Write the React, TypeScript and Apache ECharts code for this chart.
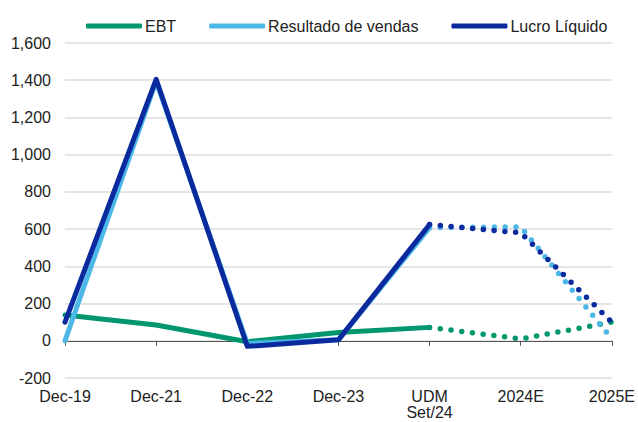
import React, { useEffect, useRef } from "react";
import * as echarts from "echarts";

const categories = ["Dec-19", "Dec-21", "Dec-22", "Dec-23", "UDM\nSet/24", "2024E", "2025E"];
const ebt = [138, 85, -5, 45, 72, 10, 100];
const resultado = [0, 1395, -15, 5, 608, 612, 10];
const lucro = [100, 1405, -30, 5, 625, 580, 100];
const yTicks = { min: -200, max: 1600, interval: 200 };
const splitIndex = 4; // actual data up to UDM Set/24, estimates afterwards

const names = ["EBT", "Resultado de vendas", "Lucro Líquido"];
const colors = ["#00976F", "#4CB8E8", "#0A2A9E"];

const solidPart = (arr: number[]) => arr.map((v, i) => (i <= splitIndex ? v : null));
const dottedPart = (arr: number[]) => arr.map((v, i) => (i >= splitIndex ? v : null));

export default function App() {
  const ref = useRef<HTMLDivElement>(null);
  useEffect(() => {
    if (!ref.current) return;
    const chart = echarts.init(ref.current, null, { renderer: "svg" });
    const font = "'Liberation Sans', Arial, sans-serif";
    const datasets = [ebt, resultado, lucro];
    const series: any[] = [];
    datasets.forEach((d, k) => {
      series.push({
        name: names[k],
        type: "line",
        data: solidPart(d),
        showSymbol: false,
        symbol: "none",
        lineStyle: { color: colors[k], width: 5, cap: "round", join: "round" },
        itemStyle: { color: colors[k] },
        z: 2 + k,
      });
      series.push({
        name: names[k],
        type: "line",
        data: dottedPart(d),
        showSymbol: false,
        symbol: "none",
        lineStyle: { color: colors[k], width: 5.5, type: [0, 10.8], cap: "round" },
        itemStyle: { color: colors[k] },
        z: 2 + k,
      });
    });
    chart.setOption({
      animation: false,
      backgroundColor: "#ffffff",
      legend: {
        data: names.map((n, k) => ({ name: n, itemStyle: { color: colors[k] } })),
        left: 81,
        top: 13,
        icon: "roundRect",
        itemWidth: 56,
        itemHeight: 5,
        itemGap: 33,
        textStyle: { fontFamily: font, fontSize: 16, color: "#222", padding: [0, 0, 0, -2] },
      },
      grid: { left: 65, right: 26, top: 43, bottom: 44, containLabel: false },
      xAxis: [
        {
          type: "category",
          data: categories,
          boundaryGap: false,
          position: "bottom",
          axisLine: { show: false, onZero: false },
          axisTick: { show: false },
          axisLabel: {
            fontFamily: font,
            fontSize: 16,
            color: "#222",
            margin: 10,
            lineHeight: 16,
            interval: 0,
          },
          splitLine: { show: false },
        },
        {
          type: "category",
          data: categories,
          boundaryGap: false,
          position: "bottom",
          axisLine: { show: true, onZero: true, onZeroAxisIndex: 0, lineStyle: { color: "#555", width: 1 } },
          axisTick: { show: true, length: 5, inside: false, interval: 0, lineStyle: { color: "#555" } },
          axisLabel: { show: false },
          splitLine: { show: false },
        },
      ],
      yAxis: {
        type: "value",
        min: yTicks.min,
        max: yTicks.max,
        interval: yTicks.interval,
        axisLine: { show: false },
        axisTick: { show: false },
        axisLabel: {
          fontFamily: font,
          fontSize: 16,
          color: "#222",
          margin: 14,
          formatter: (v: number) => v.toLocaleString("en-US"),
        },
        splitLine: { lineStyle: { color: "#dcdcdc", width: 1.5 } },
      },
      series,
    });
    return () => chart.dispose();
  }, []);
  return (
    <div
      ref={ref}
      style={{ position: "absolute", left: 0, top: 0, width: 638, height: 422 }}
    />
  );
}
